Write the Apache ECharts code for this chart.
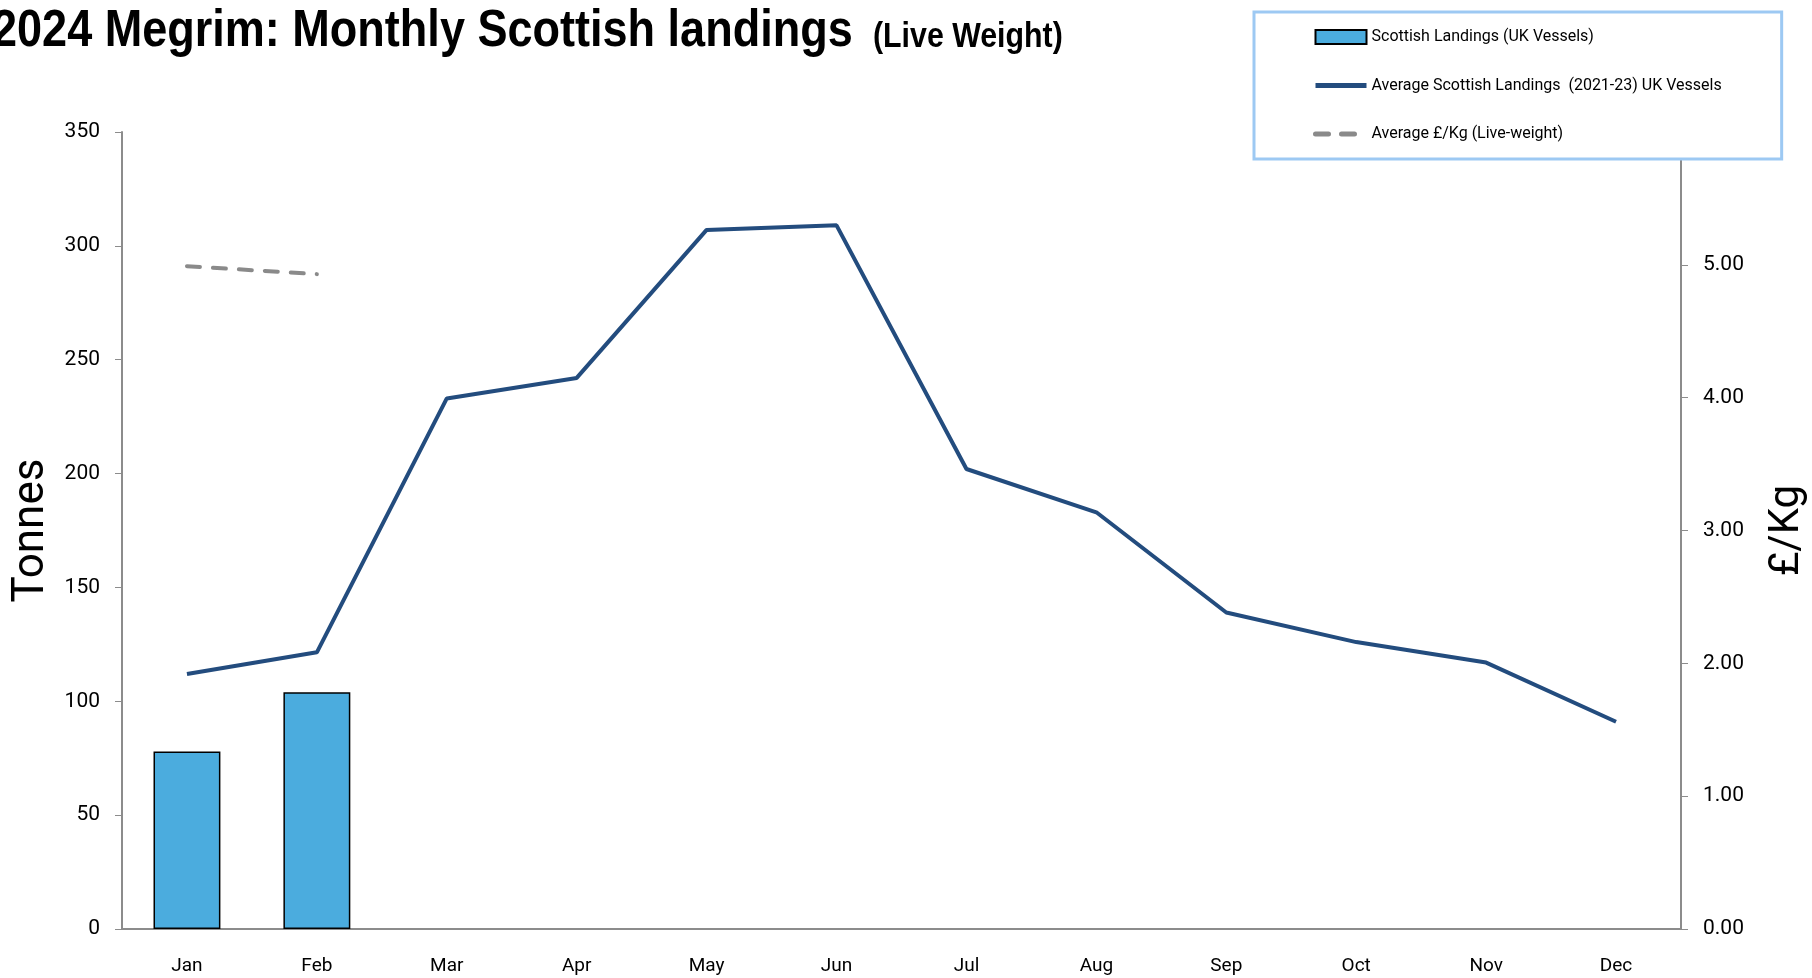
<!DOCTYPE html>
<html><head><meta charset="utf-8">
<script src="https://cdn.jsdelivr.net/npm/echarts@6/dist/echarts.min.js"></script>
<style>html,body{margin:0;padding:0;background:#fff}#c{width:1812px;height:978px}</style>
</head><body><div id="c"></div>
<script>
const months = ['Jan','Feb','Mar','Apr','May','Jun','Jul','Aug','Sep','Oct','Nov','Dec'];
const landings2024 = [78, 104];
const avgLandings = [112, 121.5, 233, 242, 307, 309, 202, 183, 139, 126, 117, 91];
const avgPrice = [4.99, 4.93];
const leftTicks = {min: 0, max: 350, interval: 50};
const rightTicks = {min: 0, max: 6, interval: 1};
const titleMain = '2024 Megrim: Monthly Scottish landings';
const titleSub = '(Live Weight)';

const chart = echarts.init(document.getElementById('c'), null, {renderer: 'canvas'});
chart.setOption({
  animation: false,
  backgroundColor: '#fff',
  graphic: [
    {type: 'text', x: -8, y: 58, scaleX: 0.866, z: 20,
     style: {text: titleMain, font: 'bold 52px "Liberation Sans"', fill: '#000', verticalAlign: 'bottom'}},
    {type: 'text', x: 873, y: 55, scaleX: 0.866, z: 20,
     style: {text: titleSub, font: 'bold 35px "Liberation Sans"', fill: '#000', verticalAlign: 'bottom'}}
  ],
  legend: {
    orient: 'vertical',
    left: 1254, top: 12,
    padding: [17, 60, 17, 59],
    itemGap: 32.5,
    itemWidth: 51, itemHeight: 14,
    backgroundColor: '#fff',
    borderColor: '#9DC9F3', borderWidth: 3,
    z: 10,
    textStyle: {fontFamily: 'Roboto', fontSize: 16, color: '#000'},
    data: [
      {name: 'Scottish Landings (UK Vessels)', icon: 'rect', itemStyle: {color: '#4BACDE', borderColor: '#000', borderWidth: 2}},
      {name: 'Average Scottish Landings  (2021-23) UK Vessels', lineStyle: {width: 5},
       itemStyle: {color: 'rgba(0,0,0,0)', borderColor: 'rgba(0,0,0,0)', borderWidth: 0}},
      {name: 'Average £/Kg (Live-weight)', lineStyle: {width: 5},
       itemStyle: {color: 'rgba(0,0,0,0)', borderColor: 'rgba(0,0,0,0)', borderWidth: 0}}
    ]
  },
  grid: {left: 122, right: 131, top: 132, bottom: 49, containLabel: false, outerBoundsMode: 'none'},
  xAxis: {
    type: 'category', data: months, boundaryGap: true,
    axisTick: {show: false},
    axisLine: {lineStyle: {color: '#8c8c8c', width: 2}},
    axisLabel: {fontFamily: 'Roboto', fontSize: 19, color: '#000', margin: 28}
  },
  yAxis: [
    {
      type: 'value', min: leftTicks.min, max: leftTicks.max, interval: leftTicks.interval,
      name: 'Tonnes', nameLocation: 'middle', nameRotate: 90, nameGap: 61,
      nameTextStyle: {fontFamily: 'Roboto', fontSize: 44, color: '#000'},
      splitLine: {show: false},
      axisLine: {show: true, lineStyle: {color: '#8c8c8c', width: 2}},
      axisTick: {show: true, length: 7, lineStyle: {color: '#8c8c8c'}},
      axisLabel: {fontFamily: 'Roboto', fontSize: 21, color: '#000', margin: 22}
    },
    {
      type: 'value', position: 'right', min: rightTicks.min, max: rightTicks.max, interval: rightTicks.interval,
      name: '£/Kg', nameLocation: 'middle', nameRotate: 90, nameGap: 85,
      nameTextStyle: {fontFamily: 'Roboto', fontSize: 42, color: '#000'},
      splitLine: {show: false},
      axisLine: {show: true, lineStyle: {color: '#8c8c8c', width: 2}},
      axisTick: {show: true, length: 7, lineStyle: {color: '#8c8c8c'}},
      axisLabel: {fontFamily: 'Roboto', fontSize: 21, color: '#000', margin: 22,
        formatter: v => v.toFixed(2)}
    }
  ],
  series: [
    {
      name: 'Scottish Landings (UK Vessels)', type: 'bar', data: landings2024,
      barWidth: '51.5%',
      itemStyle: {color: '#4BACDE', borderColor: '#000', borderWidth: 1.5}
    },
    {
      name: 'Average Scottish Landings  (2021-23) UK Vessels', type: 'line', data: avgLandings,
      symbol: 'none', lineStyle: {color: '#234C7E', width: 4}, itemStyle: {color: '#234C7E'}
    },
    {
      name: 'Average £/Kg (Live-weight)', type: 'line', yAxisIndex: 1, data: avgPrice,
      symbol: 'none', lineStyle: {color: '#8a8a8a', width: 4, type: [13, 13], cap: 'round'}, itemStyle: {color: '#8a8a8a'}
    }
  ]
});
</script></body></html>
